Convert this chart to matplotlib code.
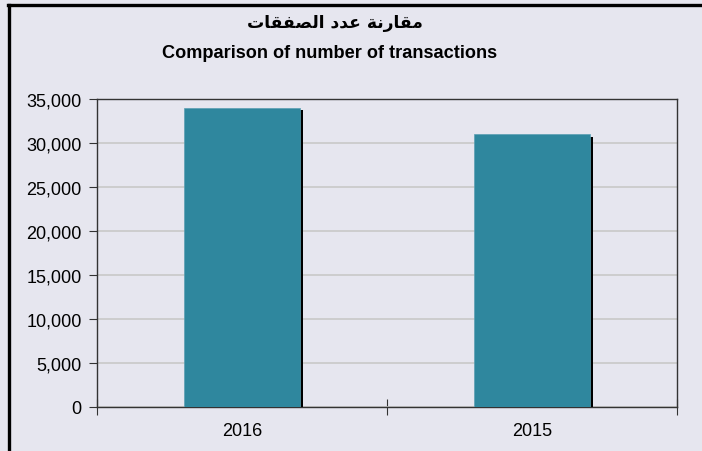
import matplotlib.pyplot as plt
import matplotlib.patheffects as pe
from matplotlib.lines import Line2D
from matplotlib.ticker import FuncFormatter

years = ['2016', '2015']
transactions = [34000, 31000]
title_en = 'Comparison of number of transactions'
# "مقارنة عدد الصفقات" written in Arabic presentation forms, visual order
title_ar = '\ufe95\ufe8e\ufed8\ufed4\ufebc\ufedf\ufe8d \ufea9\ufeaa\ufecb \ufe94\ufee7\ufead\ufe8e\ufed8\ufee3'

bg = '#e6e6ef'
bar_col = '#2f879e'

fig = plt.figure(figsize=(7.02, 4.52), dpi=100, facecolor=bg)
ax = fig.add_axes([97/702, 1-408/452, 580/702, 308/452], facecolor=bg)

x = range(len(years))
bars = ax.bar(x, transactions, width=0.4, color=bar_col, edgecolor='#5a9fb2',
              linewidth=0.5, zorder=3)
for b in bars:
    b.set_path_effects([pe.SimplePatchShadow(offset=(2.4, -1.8), shadow_rgbFace='black', alpha=1),
                        pe.Normal()])

ax.set_xlim(-0.5, 1.5)
ax.set_ylim(0, 35000)
ax.set_yticks(range(0, 35001, 5000))
ax.yaxis.set_major_formatter(FuncFormatter(lambda v, p: '{:,.0f}'.format(v)))
ax.grid(axis='y', color='#c8c8c8', linewidth=1.2, zorder=0)

ax.set_xticks([-0.5, 0.5, 1.5])
ax.set_xticklabels([])
ax.set_xticks(list(x), minor=True)
ax.set_xticklabels(years, minor=True)
ax.tick_params(axis='x', which='major', direction='inout', length=12, color='#333333')
ax.tick_params(axis='x', which='minor', length=0, pad=11, labelsize=13)
ax.tick_params(axis='y', direction='out', length=6, color='#333333', labelsize=13, pad=5)
for lab in ax.get_xticklabels(minor=True) + ax.get_yticklabels():
    lab.set_fontfamily('Liberation Sans')

for s in ax.spines.values():
    s.set_color('#333333')
    s.set_linewidth(1)

fig.text(335/702, 1-23/452, title_ar, ha='center', va='center', fontsize=12.3,
         fontweight='bold', family='DejaVu Sans')
fig.text(330/702, 1-53/452, title_en, ha='center', va='center', fontsize=13.1,
         fontweight='bold', family='Liberation Sans')

# frame lines on the left and top of the picture
fig.add_artist(Line2D([8.5/702, 8.5/702], [0, 1-5.5/452], color='black', linewidth=2.4))
fig.add_artist(Line2D([7.5/702, 1], [1-5.5/452, 1-5.5/452], color='black', linewidth=2.4))

fig.savefig('out.png', dpi=100, facecolor=bg)
